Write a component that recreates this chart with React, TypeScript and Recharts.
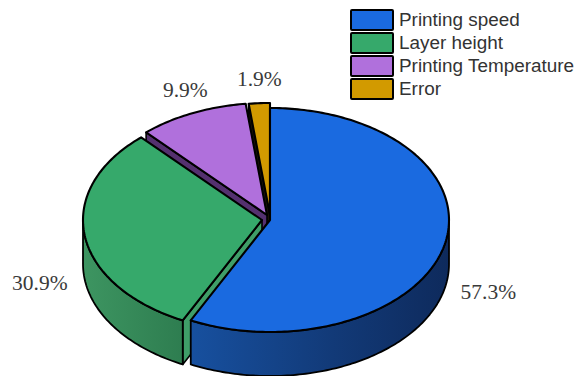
import React from "react";
import { Legend, Pie, PieChart } from "recharts";

const categories = ["Printing speed", "Layer height", "Printing Temperature", "Error"];
const shares = [57.3, 30.9, 9.9, 1.9];

const topColors = ["#1a6ae0", "#36a96b", "#b070dc", "#d29a00"];
const wallColors = ["url(#blueWall)", "url(#greenWall)", "#54306f", "#1c1406"];
const cutColors = ["#17509f", "#3f9e68", "#54306f", "#1c1406"];
// How far each slice is pulled out of the pie.
const explodeX = [0, -8, -3, 0];
const explodeY = [0, 0, -5, -5];
// Where each percentage sits relative to the rim at the slice's middle.
const labelDx = [44, -53, -10, 0];
const labelDy = [47, 47, -28, -29];

// Slices are painted from the back of the disc to the front, so the table
// runs in reverse and the pie sweeps the other way round.
const paintOrder = categories.map((_, i) => categories.length - 1 - i);
const pieData = paintOrder.map((i) => ({ name: categories[i], value: shares[i], slot: i }));

const SQUASH = 112 / 179;
const DEPTH = 44;
const RAD = Math.PI / 180;

const rim = (cx: number, cy: number, r: number, deg: number) => ({
  x: cx + r * Math.cos(deg * RAD),
  y: cy - r * SQUASH * Math.sin(deg * RAD),
});

// Traces the rim from one angle to another as short straight steps.
const arcPoints = (cx: number, cy: number, r: number, from: number, to: number, dy = 0) => {
  const steps = Math.max(2, Math.ceil(Math.abs(to - from)));
  const pts: string[] = [];
  for (let s = 0; s <= steps; s++) {
    const p = rim(cx, cy, r, from + ((to - from) * s) / steps);
    pts.push(`${p.x.toFixed(2)} ${(p.y + dy).toFixed(2)}`);
  }
  return pts;
};

function Slice3D(props: any) {
  const { cx, cy, outerRadius: r, startAngle, endAngle, payload } = props;
  const slot = payload.slot ?? props.slot;
  const x = cx + explodeX[slot];
  const y = cy + explodeY[slot];

  // Outer wall: only the part of the rim on the near half of the disc shows.
  const wallFrom = Math.max(startAngle, 180);
  const wallTo = Math.min(endAngle, 360);
  const hasWall = wallTo > wallFrom;
  const top = arcPoints(x, y, r, wallFrom, wallTo);
  const bottom = arcPoints(x, y, r, wallTo, wallFrom, DEPTH);
  const wallPath = `M${top.join("L")}L${bottom.join("L")}Z`;

  // Cut face along the slice's far edge.
  const edge = rim(x, y, r, endAngle);
  const cutPath = `M${x} ${y}L${edge.x} ${edge.y}L${edge.x} ${edge.y + DEPTH}L${x} ${y + DEPTH}Z`;

  const lid = `M${x} ${y}L${arcPoints(x, y, r, startAngle, endAngle).join("L")}Z`;

  return (
    <g>
      <path d={cutPath} fill={cutColors[slot]} stroke="#000" strokeWidth={1.6} strokeLinejoin="round" />
      {hasWall && <path d={wallPath} fill={wallColors[slot]} stroke="#000" strokeWidth={1.8} strokeLinejoin="round" />}
      <path d={lid} fill={topColors[slot]} stroke="#000" strokeWidth={2.1} strokeLinejoin="round" />
    </g>
  );
}

function SliceLabel(props: any) {
  const { cx, cy, outerRadius: r, midAngle, payload, value } = props;
  const slot = payload?.slot ?? props.slot;
  const p = rim(cx, cy, r, midAngle);
  return (
    <text
      x={p.x + labelDx[slot]}
      y={p.y + labelDy[slot]}
      textAnchor="middle"
      dominantBaseline="central"
      fontFamily="'Liberation Serif', serif"
      fontSize={21.5}
      fill="#3a3a3a"
    >
      {`${value}%`}
    </text>
  );
}

function LegendBox() {
  return (
    <div style={{ fontFamily: "'Liberation Sans', Arial, sans-serif", fontSize: 18.9, color: "#333" }}>
      {categories.map((name, i) => (
        <div key={name} style={{ display: "flex", alignItems: "center", height: 23, whiteSpace: "nowrap" }}>
          <span
            style={{
              boxSizing: "border-box",
              width: 44,
              height: 22,
              marginRight: 5,
              background: topColors[i],
              border: "2.5px solid #000",
              borderRadius: 2,
            }}
          />
          {name}
        </div>
      ))}
    </div>
  );
}

export default function App() {
  return (
    <div style={{ position: "absolute", left: 0, top: 0, width: 579, height: 376, background: "#fff" }}>
      <PieChart width={579} height={376} margin={{ top: 0, right: 0, bottom: 0, left: 0 }}>
        <defs>
          <linearGradient id="blueWall" x1="0" y1="0" x2="1" y2="0">
            <stop offset="0%" stopColor="#17509f" />
            <stop offset="55%" stopColor="#123a78" />
            <stop offset="100%" stopColor="#0e2a5c" />
          </linearGradient>
          <linearGradient id="greenWall" x1="0" y1="0" x2="1" y2="0">
            <stop offset="0%" stopColor="#3d9561" />
            <stop offset="100%" stopColor="#2e7d50" />
          </linearGradient>
        </defs>
        <Pie
          data={pieData}
          dataKey="value"
          nameKey="name"
          cx={270}
          cy={220}
          outerRadius={179}
          startAngle={90}
          endAngle={450}
          stroke="none"
          isAnimationActive={false}
          shape={Slice3D}
          label={SliceLabel}
          labelLine={false}
        />
        <Legend
          content={<LegendBox />}
          wrapperStyle={{ position: "absolute", left: 350, top: 8, width: 229, bottom: "auto" }}
        />
      </PieChart>
    </div>
  );
}
